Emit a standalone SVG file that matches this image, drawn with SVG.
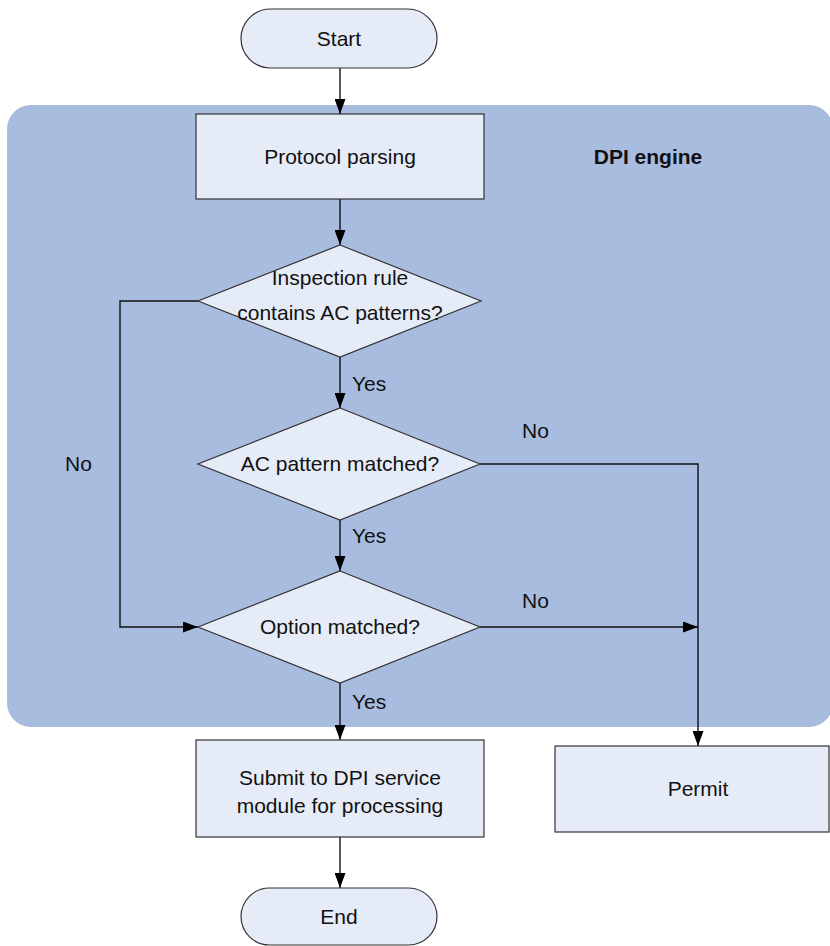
<svg xmlns="http://www.w3.org/2000/svg" width="830" height="946" viewBox="0 0 830 946">
  <style>
    .node { fill: #E6ECF7; stroke: #333333; stroke-width: 1.2; }
    .txt { font-family: "Liberation Sans", Arial, sans-serif; font-size: 21px; fill: #111111; }
    .mid { text-anchor: middle; }
    .bold { font-weight: bold; }
    .wire { fill: none; stroke: #111111; stroke-width: 1.4; }
  </style>
  <defs>
    <marker id="arrow" viewBox="0 0 15 11" refX="15" refY="5.5" markerWidth="15" markerHeight="11" markerUnits="userSpaceOnUse" orient="auto">
      <path d="M0,0 L15,5.5 L0,11 Z" fill="#000000"/>
    </marker>
  </defs>

  <rect width="830" height="946" fill="#FFFFFF"/>

  <!-- DPI engine region -->
  <g id="dpi-engine">
    <rect x="7" y="105" width="826" height="622" rx="24" ry="24" fill="#A8BCDF"/>
    <text class="txt mid bold" x="648" y="164">DPI engine</text>
  </g>

  <!-- Connectors -->
  <g id="connectors">
    <path class="wire" d="M340,68 L340,114" marker-end="url(#arrow)"/>
    <path class="wire" d="M340,199 L340,245" marker-end="url(#arrow)"/>
    <path class="wire" d="M340,357 L340,408" marker-end="url(#arrow)"/>
    <path class="wire" d="M340,520 L340,571" marker-end="url(#arrow)"/>
    <path class="wire" d="M198,301 L120,301 L120,627 L198,627" marker-end="url(#arrow)"/>
    <path class="wire" d="M480,464 L698,464 L698,746" marker-end="url(#arrow)"/>
    <path class="wire" d="M480,627 L698,627" marker-end="url(#arrow)"/>
    <path class="wire" d="M340,683 L340,740" marker-end="url(#arrow)"/>
    <path class="wire" d="M340,837 L340,888" marker-end="url(#arrow)"/>
    <text class="txt" x="352" y="391">Yes</text>
    <text class="txt" x="352" y="543">Yes</text>
    <text class="txt" x="352" y="709">Yes</text>
    <text class="txt" x="522" y="438">No</text>
    <text class="txt" x="522" y="608">No</text>
    <text class="txt" x="65" y="471">No</text>
  </g>

  <g id="start">
    <rect class="node" x="241" y="9" width="196" height="59" rx="29.5" ry="29.5"/>
    <text class="txt mid" x="339" y="45.5">Start</text>
  </g>

  <g id="protocol-parsing">
    <rect class="node" x="196" y="114" width="288" height="85"/>
    <text class="txt mid" x="340" y="163.5">Protocol parsing</text>
  </g>

  <g id="ac-patterns-check">
    <polygon class="node" points="340,245 481,301 340,357 198,301"/>
    <text class="txt mid" x="340" y="285">Inspection rule</text>
    <text class="txt mid" x="340" y="320">contains AC patterns?</text>
  </g>

  <g id="ac-match-check">
    <polygon class="node" points="340,408 480,464 340,520 198,464"/>
    <text class="txt mid" x="340" y="471">AC pattern matched?</text>
  </g>

  <g id="option-check">
    <polygon class="node" points="340,571 480,627 340,683 198,627"/>
    <text class="txt mid" x="340" y="633.5">Option matched?</text>
  </g>

  <g id="submit">
    <rect class="node" x="196" y="740" width="288" height="97"/>
    <text class="txt mid" x="340" y="785">Submit to DPI service</text>
    <text class="txt mid" x="340" y="813">module for processing</text>
  </g>

  <g id="permit">
    <rect class="node" x="555" y="746" width="274" height="86"/>
    <text class="txt mid" x="698" y="796">Permit</text>
  </g>

  <g id="end">
    <rect class="node" x="241" y="888" width="196" height="57" rx="28.5" ry="28.5"/>
    <text class="txt mid" x="339" y="924">End</text>
  </g>
</svg>
